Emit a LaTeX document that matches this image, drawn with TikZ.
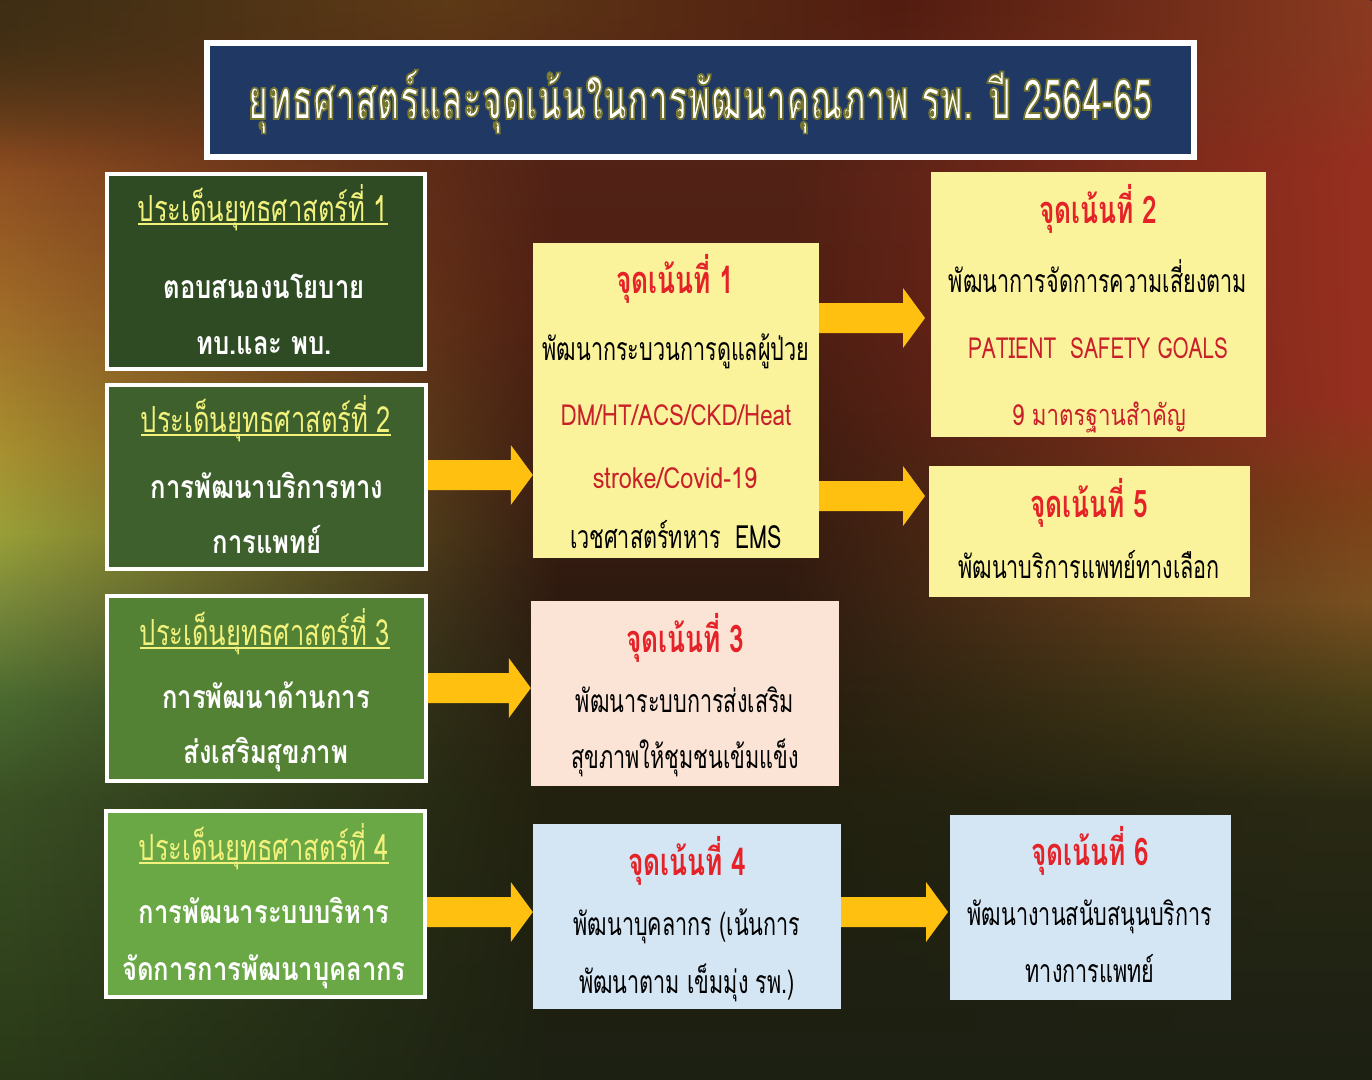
\documentclass[tikz,border=0pt]{standalone}
\usepackage{fontspec}
\usetikzlibrary{fadings,calc}
\newfontfamily\fTitle[Script=Thai,FakeStretch=0.63,FakeBold=3]{Loma}
\newfontfamily\fLhead[Script=Thai,FakeStretch=0.71]{Loma}
\newfontfamily\fLbody[Script=Thai,FakeStretch=0.80]{Loma}
\newfontfamily\fFhead[Script=Thai,FakeStretch=0.69]{Loma}
\newfontfamily\fFbody[Script=Thai,FakeStretch=0.675]{Loma}
\newfontfamily\fFred[Script=Thai,FakeStretch=0.77]{Loma}
\definecolor{navy}{HTML}{1F3864}
\definecolor{sA}{HTML}{2F4B24}
\definecolor{sB}{HTML}{3E602D}
\definecolor{sC}{HTML}{538234}
\definecolor{sD}{HTML}{6AA745}
\definecolor{hyel}{HTML}{F1F17C}
\definecolor{fyel}{HTML}{FAF39C}
\definecolor{fpeach}{HTML}{FBE4D5}
\definecolor{fblue}{HTML}{D4E5F4}
\definecolor{fred}{HTML}{E42228}
\definecolor{dred}{HTML}{C9202A}
\definecolor{arrowc}{HTML}{FFC010}
% background colours
\definecolor{b0}{HTML}{55261A}\definecolor{b1}{HTML}{4E1E12}\definecolor{b2}{HTML}{2E1A10}
\definecolor{b3}{HTML}{22200F}\definecolor{b4}{HTML}{1C2012}
\definecolor{l0}{HTML}{3E2E14}\definecolor{l1}{HTML}{8A4A20}\definecolor{l2}{HTML}{A06A28}
\definecolor{l3}{HTML}{A89030}\definecolor{l4}{HTML}{9AA038}\definecolor{l5}{HTML}{7A8A3A}
\definecolor{l6}{HTML}{4A6A30}\definecolor{l7}{HTML}{3A5024}\definecolor{l8}{HTML}{2A3A18}
\definecolor{r0}{HTML}{8A3A20}\definecolor{r1}{HTML}{983020}\definecolor{r2}{HTML}{804018}
\definecolor{r3}{HTML}{7A5020}\definecolor{r4}{HTML}{4A4018}\definecolor{r5}{HTML}{2A2A14}
\definecolor{r6}{HTML}{1C2014}
\definecolor{t0}{HTML}{3E2E14}\definecolor{t1}{HTML}{5E3A16}\definecolor{t2}{HTML}{521C10}
\definecolor{t3}{HTML}{8A3A20}
% shadings: the path box maps to 25bp..75bp
\pgfdeclareverticalshading{bgbase}{100bp}{color(0bp)=(b4); color(25bp)=(b4); color(37.9bp)=(b3); color(47.2bp)=(b2); color(61.1bp)=(b1); color(75bp)=(b0); color(100bp)=(b0)}
\pgfdeclareverticalshading{bgleft}{100bp}{color(0bp)=(l8); color(25bp)=(l8); color(37.9bp)=(l7); color(42.6bp)=(l6); color(47.2bp)=(l5); color(50.4bp)=(l4); color(54.2bp)=(l3); color(61.1bp)=(l2); color(68.1bp)=(l1); color(75bp)=(l0); color(100bp)=(l0)}
\pgfdeclareverticalshading{bgright}{100bp}{color(0bp)=(r6); color(25bp)=(r6); color(37.9bp)=(r5); color(42.6bp)=(r4); color(47.2bp)=(r3); color(51.8bp)=(r2); color(56.5bp)=(r1); color(68.1bp)=(r1); color(75bp)=(r0); color(100bp)=(r0)}
\pgfdeclarehorizontalshading{bgtopband}{100bp}{color(0bp)=(t0); color(25bp)=(t0); color(41.4bp)=(t1); color(57.8bp)=(t2); color(75bp)=(t3); color(100bp)=(t3)}
\tikzfading[name=fadeR, left color=transparent!0, right color=transparent!100]
\tikzfading[name=fadeL, left color=transparent!100, right color=transparent!0]
\tikzfading[name=fadeD, top color=transparent!0, bottom color=transparent!100]
\tikzset{
  stratbox/.style={draw=white, line width=4pt, inner sep=0pt},
  focusbox/.style={draw=none, inner sep=0pt},
  txt/.style={inner sep=0pt, anchor=base},
  titletxt/.style={txt, font=\fTitle\bfseries\fontsize{56}{64}\selectfont},
  lhead/.style={txt, text=hyel, font=\fLhead\fontsize{36}{42}\selectfont},
  lbody/.style={txt, text=white, font=\fLbody\bfseries\fontsize{32}{38}\selectfont},
  fhead/.style={txt, text=fred, font=\fFhead\bfseries\fontsize{38}{44}\selectfont},
  fbody/.style={txt, text=black, font=\fFbody\fontsize{32}{38}\selectfont},
  fredl/.style={txt, text=dred, font=\fFred\fontsize{29}{36}\selectfont},
  blockarrow/.style={fill=arrowc},
}
\newcommand\blockarr[2]{%
  \fill[blockarrow] let \p1=(#1), \p2=(#2) in
    (\x1,\y1+15pt) -- (\x2-22pt,\y1+15pt) -- (\x2-22pt,\y1+30pt) -- (\x2,\y1)
    -- (\x2-22pt,\y1-30pt) -- (\x2-22pt,\y1-15pt) -- (\x1,\y1-15pt) -- cycle;}
\newcommand\lhline[1]{\draw[hyel, line width=2pt] ([yshift=-3pt]#1.base west) -- ([yshift=-3pt]#1.base east);}
\begin{document}
\begin{tikzpicture}[x=1pt,y=-1pt]
\useasboundingbox (0,0) rectangle (1372,1079);
% background
\shade[shading=bgbase] (0,0) rectangle (1372,1079);
\shade[shading=bgleft, path fading=fadeR] (0,0) rectangle (560,1079);
\shade[shading=bgright, path fading=fadeL] (780,0) rectangle (1372,1079);
\shade[shading=bgtopband, path fading=fadeD] (0,0) rectangle (1372,170);

% title
\node[draw=white, line width=6pt, fill=navy, minimum width=987, minimum height=114] (title) at (700.5,100) {};
\node[titletxt, text=white] (ttext) at (700,119) {\special{pdf:code 0.463 0.459 0.184 RG}ยุทธศาสตร์และจุดเน้นในการพัฒนาคุณภาพ รพ. ปี 2564-65};

% strategy boxes
\node[stratbox, fill=sA, minimum width=318, minimum height=195] (s1) at (266,271.5) {};
\node[stratbox, fill=sB, minimum width=319, minimum height=184] (s2) at (266.5,477) {};
\node[stratbox, fill=sC, minimum width=319, minimum height=185] (s3) at (266.5,688.5) {};
\node[stratbox, fill=sD, minimum width=319, minimum height=186] (s4) at (265.5,904) {};

\node[lhead] (s1h) at (263,221) {ประเด็นยุทธศาสตร์ที่ 1}; \lhline{s1h}
\node[lbody] (s1a) at (264,298) {ตอบสนองนโยบาย};
\node[lbody] (s1b) at (264,354) {ทบ.และ พบ.};
\node[lhead] (s2h) at (266,432) {ประเด็นยุทธศาสตร์ที่ 2}; \lhline{s2h}
\node[lbody] (s2a) at (267,498) {การพัฒนาบริการทาง};
\node[lbody] (s2b) at (267,553) {การแพทย์};
\node[lhead] (s3h) at (265,645) {ประเด็นยุทธศาสตร์ที่ 3}; \lhline{s3h}
\node[lbody] (s3a) at (266,708) {การพัฒนาด้านการ};
\node[lbody] (s3b) at (266,763) {ส่งเสริมสุขภาพ};
\node[lhead] (s4h) at (264,860) {ประเด็นยุทธศาสตร์ที่ 4}; \lhline{s4h}
\node[lbody] (s4a) at (264,923) {การพัฒนาระบบบริหาร};
\node[lbody] (s4b) at (264,980) {จัดการการพัฒนาบุคลากร};

% focus boxes
\node[focusbox, fill=fyel, minimum width=286, minimum height=315] (f1) at (676,400.5) {};
\node[focusbox, fill=fyel, minimum width=335, minimum height=265] (f2) at (1098.5,304.5) {};
\node[focusbox, fill=fyel, minimum width=321, minimum height=131] (f5) at (1089.5,531.5) {};
\node[focusbox, fill=fpeach, minimum width=308, minimum height=185] (f3) at (685,693.5) {};
\node[focusbox, fill=fblue, minimum width=308, minimum height=185] (f4) at (687,916.5) {};
\node[focusbox, fill=fblue, minimum width=281, minimum height=185] (f6) at (1090.5,907.5) {};

\node[fhead] (f1h) at (675,293) {จุดเน้นที่ 1};
\node[fbody] (f1a) at (676,360) {พัฒนากระบวนการดูแลผู้ป่วย};
\node[fredl] (f1b) at (676,425) {DM/HT/ACS/CKD/Heat};
\node[fredl] (f1c) at (675,488) {\scalebox{1.05}[1]{stroke/Covid-19}};
\node[fbody] (f1d) at (676,548) {เวชศาสตร์ทหาร\ \ EMS};

\node[fhead] (f2h) at (1098,223) {จุดเน้นที่ 2};
\node[fbody] (f2a) at (1098,292) {พัฒนาการจัดการความเสี่ยงตาม};
\node[fredl] (f2b) at (1098,358) {\scalebox{0.93}[1]{PATIENT\ \ SAFETY GOALS}};
\node[fredl] (f2c) at (1099,425) {9 มาตรฐานสำคัญ};

\node[fhead] (f5h) at (1089,517) {จุดเน้นที่ 5};
\node[fbody] (f5a) at (1089,578) {พัฒนาบริการแพทย์ทางเลือก};

\node[fhead] (f3h) at (685,652) {จุดเน้นที่ 3};
\node[fbody] (f3a) at (685,712) {พัฒนาระบบการส่งเสริม};
\node[fbody] (f3b) at (685,768) {สุขภาพให้ชุมชนเข้มแข็ง};

\node[fhead] (f4h) at (687,875) {จุดเน้นที่ 4};
\node[fbody] (f4a) at (687,935) {พัฒนาบุคลากร (เน้นการ};
\node[fbody] (f4b) at (687,993) {พัฒนาตาม เข็มมุ่ง รพ.)};

\node[fhead] (f6h) at (1090,865) {จุดเน้นที่ 6};
\node[fbody] (f6a) at (1090,925) {พัฒนางานสนับสนุนบริการ};
\node[fbody] (f6b) at (1090,982) {ทางการแพทย์};

% arrows
\coordinate (ya1) at (0,475);
\coordinate (ya2) at (0,318);
\coordinate (ya5) at (0,496);
\coordinate (ya3) at (0,688);
\coordinate (ya4) at (0,912);
\coordinate (t2) at (925,318);
\coordinate (t5) at (925,496);
\coordinate (t6) at (948,912);
\blockarr{s2.east |- ya1}{f1.west |- ya1}
\blockarr{f1.east |- ya2}{t2}
\blockarr{f1.east |- ya5}{t5}
\blockarr{s3.east |- ya3}{f3.west |- ya3}
\blockarr{s4.east |- ya4}{f4.west |- ya4}
\blockarr{f4.east |- ya4}{t6}
\end{tikzpicture}
\end{document}
